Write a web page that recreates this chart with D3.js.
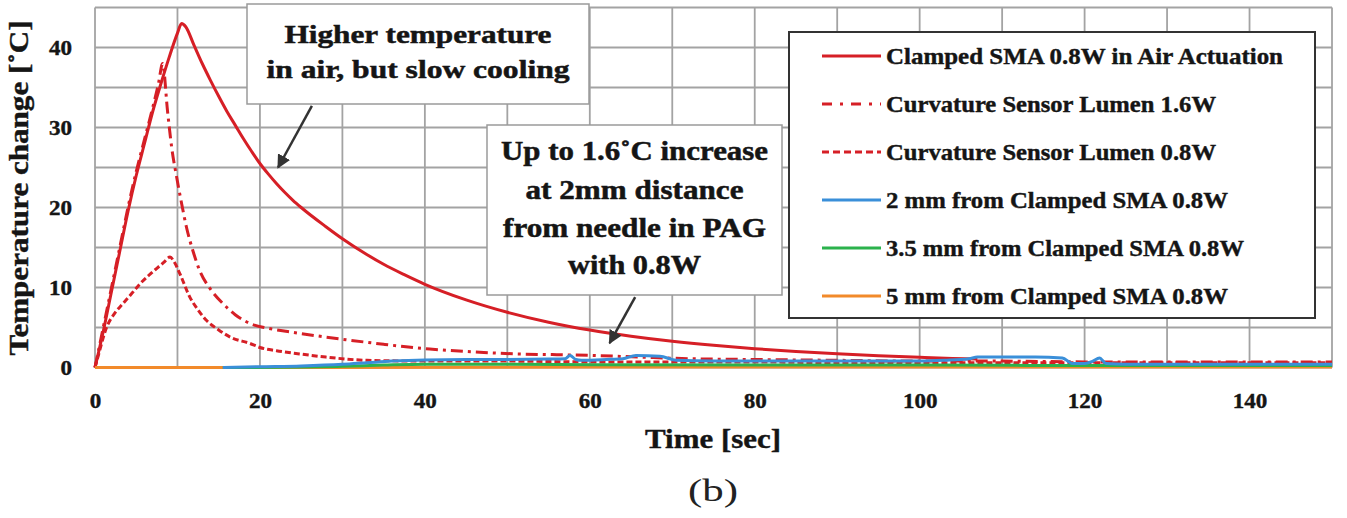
<!DOCTYPE html>
<html>
<head>
<meta charset="utf-8">
<script src="https://cdn.jsdelivr.net/npm/d3@7"></script>
<style>
body { margin: 0; background: #fff; }
text { font-family: "Liberation Serif", "Times New Roman", serif; }
</style>
</head>
<body>
<div id="chart"></div>
<script>
// values (time in sec, temperature change in deg C)
var airTime = [0, 1, 2, 3, 4, 5, 6, 7, 8, 9, 10, 10.5, 11, 12, 13, 14, 15, 16, 17, 18, 19, 20, 21, 22, 23, 24, 25, 28, 30, 33, 35, 37.5, 40, 45, 50, 55, 60, 65, 70, 75, 80, 85, 90, 95, 100, 104, 107];
var airTemp = [0, 4.5, 9.5, 14.5, 19.5, 24, 28, 32, 35.5, 38.8, 41.8, 43, 42.6, 40.3, 38.0, 35.9, 33.9, 32.0, 30.3, 28.6, 27.0, 25.5, 24.2, 23.0, 21.9, 20.9, 20.0, 17.6, 16.1, 14.1, 12.9, 11.6, 10.4, 8.45, 6.9, 5.66, 4.68, 3.91, 3.28, 2.77, 2.35, 2.0, 1.71, 1.48, 1.28, 1.14, 1.05];

var lumen16Time = [0, 1, 2, 3, 4, 5, 6, 7, 7.7, 8.2, 8.8, 9.3, 9.9, 10.5, 11.1, 11.9, 12.7, 14, 15.5, 17, 18.8, 21, 24, 28, 31, 35, 40.6, 45, 51, 56, 60.8, 66, 72, 80, 90, 100, 110, 120, 130, 140, 150];
var lumen16Temp = [0, 5, 10, 15, 20, 24.5, 28.5, 32.5, 35.5, 38, 32, 27.5, 23.8, 20.5, 17.5, 14.5, 12.1, 9.8, 8, 6.6, 5.5, 4.9, 4.4, 3.8, 3.4, 2.9, 2.3, 2.0, 1.7, 1.6, 1.5, 1.3, 1.1, 1.0, 0.9, 0.8, 0.8, 0.7, 0.7, 0.7, 0.7];

var lumen08Time = [0, 0.4, 1.4, 2.4, 3.4, 4.5, 5.5, 6.5, 7.5, 8.3, 9.1, 9.6, 10.3, 11.5, 12.5, 13.5, 15, 16.4, 18.8, 20, 22, 24.8, 28, 33, 40, 50, 60, 70, 80, 90, 100, 110, 120, 130, 140, 150];
var lumen08Temp = [0, 1.5, 5, 6.8, 8, 9.3, 10.5, 11.5, 12.4, 13.1, 13.8, 13.2, 11.7, 8.8, 7.2, 5.9, 4.7, 3.8, 3.0, 2.5, 2.1, 1.7, 1.3, 0.9, 0.8, 0.8, 0.7, 0.7, 0.7, 0.6, 0.6, 0.6, 0.6, 0.6, 0.6, 0.6];

var mm2Time = [15.5, 20, 25, 30, 33, 36, 40, 45, 50, 55, 57, 57.6, 58.3, 59, 62, 64, 65.6, 68.5, 70.5, 75, 80, 85, 90, 95, 100, 103, 106, 107, 110, 114, 117.3, 118.5, 120, 121, 121.8, 122.6, 125, 130, 135, 140, 145, 150];
var mm2Temp = [0, 0.1, 0.2, 0.4, 0.6, 0.8, 0.95, 1.0, 1.0, 1.05, 1.1, 1.5, 1.0, 0.9, 1.0, 1.1, 1.5, 1.4, 0.9, 0.8, 0.8, 0.8, 0.8, 0.8, 0.8, 0.9, 1.1, 1.3, 1.3, 1.3, 1.2, 0.5, 0.5, 0.8, 1.2, 0.5, 0.4, 0.4, 0.4, 0.4, 0.4, 0.4];

var mm35Time = [15.5, 25, 30, 35, 40, 50, 60, 80, 100, 120, 150];
var mm35Temp = [0, 0.05, 0.15, 0.3, 0.4, 0.4, 0.35, 0.3, 0.3, 0.25, 0.25];

var mm5Time = [0, 30, 60, 90, 120, 150];
var mm5Temp = [0, 0, 0.05, 0.05, 0.05, 0.05];

var seriesNames = ["Clamped SMA 0.8W in Air Actuation", "Curvature Sensor Lumen 1.6W", "Curvature Sensor Lumen 0.8W",
                   "2 mm from Clamped SMA 0.8W", "3.5 mm from Clamped SMA 0.8W", "5 mm from Clamped SMA 0.8W"];
var xTicks = [0, 20, 40, 60, 80, 100, 120, 140];
var yTicks = [0, 10, 20, 30, 40];

var width = 1347, height = 518;

var svg = d3.select("#chart").append("svg")
    .attr("width", width)
    .attr("height", height)
    .style("background", "#fff");

var x = d3.scaleLinear().domain([0, 150]).range([95, 1332]);
var y = d3.scaleLinear().domain([0, 45]).range([367.5, 7.5]);

// grid every 10 sec / 5 deg
svg.append("g").selectAll("line")
    .data(d3.range(0, 151, 10))
    .enter().append("line")
    .attr("x1", d => x(d)).attr("x2", d => x(d))
    .attr("y1", y(0)).attr("y2", y(45))
    .attr("stroke", "#a3a3a3").attr("stroke-width", 1.8);

svg.append("g").selectAll("line")
    .data(d3.range(0, 46, 5))
    .enter().append("line")
    .attr("x1", x(0)).attr("x2", x(150))
    .attr("y1", d => y(d)).attr("y2", d => y(d))
    .attr("stroke", "#a3a3a3").attr("stroke-width", 1.8);

// axes
var xAxis = svg.append("g")
    .attr("transform", "translate(0," + y(0) + ")")
    .call(d3.axisBottom(x).tickValues(xTicks).tickSize(0).tickPadding(26));
xAxis.select(".domain").remove();

var yAxis = svg.append("g")
    .attr("transform", "translate(" + x(0) + ",0)")
    .call(d3.axisLeft(y).tickValues(yTicks).tickSize(0).tickPadding(23));
yAxis.select(".domain").remove();

svg.selectAll(".tick text")
    .attr("font-size", 21)
    .attr("font-weight", "bold")
    .attr("fill", "#151515")
    .attr("stroke", "#151515")
    .attr("stroke-width", 0.4)
    .attr("textLength", d => String(d).length * 11.5)
    .attr("lengthAdjust", "spacingAndGlyphs");

// series
var line = d3.line()
    .x(d => x(d[0]))
    .y(d => y(d[1]))
    .curve(d3.curveMonotoneX);

var red = "#d61f26";
var series = [
    {t: airTime, v: airTemp, color: red, dash: null},
    {t: lumen16Time, v: lumen16Temp, color: red, dash: "12,5,3,5"},
    {t: lumen08Time, v: lumen08Temp, color: red, dash: "6,3"},
    {t: mm2Time, v: mm2Temp, color: "#3a8fd9", dash: null},
    {t: mm35Time, v: mm35Temp, color: "#2bb24c", dash: null},
    {t: mm5Time, v: mm5Temp, color: "#f28a2a", dash: null}
];

// draw order: red curves, then orange, green, blue on top
[0, 1, 2, 5, 4, 3].forEach(function(i) {
    var s = series[i];
    svg.append("path")
        .datum(d3.zip(s.t, s.v))
        .attr("d", line)
        .attr("fill", "none")
        .attr("stroke", s.color)
        .attr("stroke-width", 3)
        .attr("stroke-dasharray", s.dash);
});

// axis titles
svg.append("text")
    .attr("transform", "translate(28,188) rotate(-90)")
    .attr("text-anchor", "middle")
    .attr("font-size", 27)
    .attr("font-weight", "bold")
    .attr("fill", "#151515")
    .attr("stroke", "#151515").attr("stroke-width", 0.4)
    .attr("textLength", 335)
    .attr("lengthAdjust", "spacingAndGlyphs")
    .text("Temperature change [˚C]");

svg.append("text")
    .attr("x", 713).attr("y", 448)
    .attr("text-anchor", "middle")
    .attr("font-size", 27)
    .attr("font-weight", "bold")
    .attr("fill", "#151515")
    .attr("stroke", "#151515").attr("stroke-width", 0.4)
    .attr("textLength", 136)
    .attr("lengthAdjust", "spacingAndGlyphs")
    .text("Time [sec]");

svg.append("text")
    .attr("x", 713).attr("y", 501)
    .attr("text-anchor", "middle")
    .attr("font-size", 31)
    .attr("fill", "#222")
    .attr("textLength", 50)
    .attr("lengthAdjust", "spacingAndGlyphs")
    .text("(b)");

// arrow marker
svg.append("defs").append("marker")
    .attr("id", "head")
    .attr("viewBox", "0 0 10 10")
    .attr("refX", 9).attr("refY", 5)
    .attr("markerWidth", 5.5).attr("markerHeight", 5.5)
    .attr("orient", "auto")
    .append("path")
    .attr("d", "M0,0 L10,5 L0,10 Z")
    .attr("fill", "#333");

// annotation boxes
function note(box, lines, arrow) {
    svg.append("rect")
        .attr("x", box.x).attr("y", box.y)
        .attr("width", box.w).attr("height", box.h)
        .attr("fill", "#fff")
        .attr("stroke", "#9a9a9a")
        .attr("stroke-width", 1.5);
    lines.forEach(function(l) {
        svg.append("text")
            .attr("x", box.x + box.w / 2).attr("y", l.y)
            .attr("text-anchor", "middle")
            .attr("font-size", box.fs)
            .attr("font-weight", "bold")
            .attr("fill", "#151515")
            .attr("stroke", "#151515").attr("stroke-width", 0.5)
            .attr("textLength", l.len)
            .attr("lengthAdjust", "spacingAndGlyphs")
            .text(l.text);
    });
    svg.append("line")
        .attr("x1", x(arrow[0])).attr("y1", y(arrow[1]))
        .attr("x2", x(arrow[2])).attr("y2", y(arrow[3]))
        .attr("stroke", "#333")
        .attr("stroke-width", 2.5)
        .attr("marker-end", "url(#head)");
}

note({x: 247, y: 4, w: 342, h: 100, fs: 26},
    [{text: "Higher temperature", y: 43, len: 267},
     {text: "in air, but slow cooling", y: 78, len: 303}],
    [26.3, 32.7, 22.2, 25.0]);

note({x: 487, y: 125, w: 295, h: 170, fs: 27},
    [{text: "Up to 1.6˚C increase", y: 160, len: 267},
     {text: "at 2mm distance", y: 199, len: 218},
     {text: "from needle in PAG", y: 237, len: 263},
     {text: "with 0.8W", y: 274, len: 133}],
    [65.5, 8.8, 62.4, 3.05]);

// legend
var legend = svg.append("g");
legend.append("rect")
    .attr("x", 789).attr("y", 32)
    .attr("width", 526).attr("height", 286)
    .attr("fill", "#fff")
    .attr("stroke", "#333")
    .attr("stroke-width", 2);

var legendDash = [null, "10,8,3,8", "7,4", null, null, null];
var legendLen = [397, 330, 330, 342, 358, 342];
var rowY = d3.scaleLinear().domain([0, 5]).range([56, 296]);

series.forEach(function(s, i) {
    legend.append("line")
        .attr("x1", 822).attr("x2", 881)
        .attr("y1", rowY(i)).attr("y2", rowY(i))
        .attr("stroke", s.color)
        .attr("stroke-width", 3)
        .attr("stroke-dasharray", legendDash[i]);
    legend.append("text")
        .attr("x", 886).attr("y", rowY(i) + 8)
        .attr("font-size", 23)
        .attr("font-weight", "bold")
        .attr("fill", "#151515")
        .attr("stroke", "#151515").attr("stroke-width", 0.4)
        .attr("textLength", legendLen[i])
        .attr("lengthAdjust", "spacingAndGlyphs")
        .text(seriesNames[i]);
});
</script>
</body>
</html>
